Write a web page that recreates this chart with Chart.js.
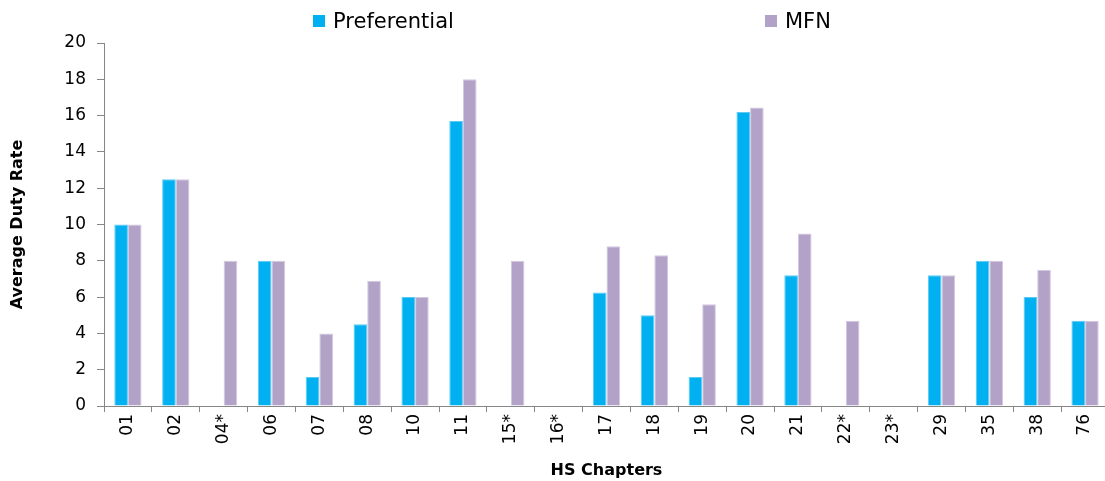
<!DOCTYPE html>
<html>
<head>
<meta charset="utf-8">
<script src="https://cdn.jsdelivr.net/npm/chart.js@4.4.1/dist/chart.umd.min.js"></script>
<style>
  html, body { margin: 0; padding: 0; background: #fff; overflow: hidden; width: 1105px; height: 481px; }
  #wrap { position: relative; width: 1109px; height: 481px; }
  .lg { position: absolute; top: 9px; display: flex; align-items: center; font: 21px "DejaVu Sans", Verdana, sans-serif; color: #000; white-space: nowrap; }
  .lg i { display: inline-block; width: 12px; height: 12px; margin-right: 8px; }
</style>
</head>
<body>
<div id="wrap">
  <canvas id="chart"></canvas>
</div>
<script>
// HS chapters and average duty rates (%)
const chapters = ['01','02','04*','06','07','08','10','11','15*','16*','17','18','19','20','21','22*','23*','29','35','38','76'];
const preferential = [10, 12.5, 0, 8, 1.6, 4.5, 6, 15.7, 0, 0, 6.25, 5, 1.6, 16.2, 7.2, 0, 0, 7.2, 8, 6, 4.7];
const mfn          = [10, 12.5, 8, 8, 4, 6.9, 6, 18, 8, 0, 8.8, 8.3, 5.6, 16.45, 9.5, 4.7, 0, 7.2, 8, 7.5, 4.7];
const yTicks = { min: 0, max: 20, step: 2 };
const seriesNames = ['Preferential', 'MFN'];

const FONT = '"DejaVu Sans", Verdana, sans-serif';
const AXIS = '#868686';

const chart = new Chart(document.getElementById('chart'), {
  type: 'bar',
  data: {
    labels: chapters,
    datasets: [
      { label: seriesNames[0], data: preferential, backgroundColor: '#00b0f0', borderColor: '#5ccbf4', borderWidth: 1, borderSkipped: 'bottom' },
      { label: seriesNames[1], data: mfn, backgroundColor: '#b3a2c7', borderColor: '#d3c8e0', borderWidth: 1, borderSkipped: 'bottom' }
    ]
  },
  options: {
    responsive: true,
    maintainAspectRatio: false,
    animation: false,
    layout: { padding: { top: 43, left: 0, right: 0, bottom: 0 } },
    datasets: { bar: { categoryPercentage: 0.57, barPercentage: 1 } },
    plugins: { legend: { display: false }, tooltip: { enabled: false } },
    scales: {
      x: {
        grid: { offset: true, drawOnChartArea: false, tickLength: 6, color: AXIS, lineWidth: 1 },
        border: { color: AXIS, width: 1 },
        ticks: { minRotation: 90, maxRotation: 90, padding: 2, color: '#000', font: { family: FONT, size: 17 } },
        title: { display: true, text: 'HS Chapters', color: '#000', font: { family: FONT, size: 16, weight: 'bold' }, padding: { top: 0, bottom: 1 } },
        afterFit: s => { s.height = 75; }
      },
      y: {
        min: yTicks.min,
        max: yTicks.max,
        grid: { drawOnChartArea: false, tickLength: 7, color: AXIS, lineWidth: 1 },
        border: { color: AXIS, width: 1 },
        ticks: { stepSize: yTicks.step, padding: 11, color: '#000', font: { family: FONT, size: 17 } },
        title: { display: true, text: 'Average Duty Rate', color: '#000', font: { family: FONT, size: 16, weight: 'bold' }, padding: { top: 8, bottom: 0 } },
        afterFit: s => { s.width = 104; }
      }
    }
  }
});

// Legend entries across the top
const legendX = [313, 765];
chart.data.datasets.forEach((ds, i) => {
  const el = document.createElement('div');
  el.className = 'lg';
  el.style.left = legendX[i] + 'px';
  const sw = document.createElement('i');
  sw.style.background = ds.backgroundColor;
  el.appendChild(sw);
  el.appendChild(document.createTextNode(ds.label));
  document.getElementById('wrap').appendChild(el);
});
</script>
</body>
</html>
